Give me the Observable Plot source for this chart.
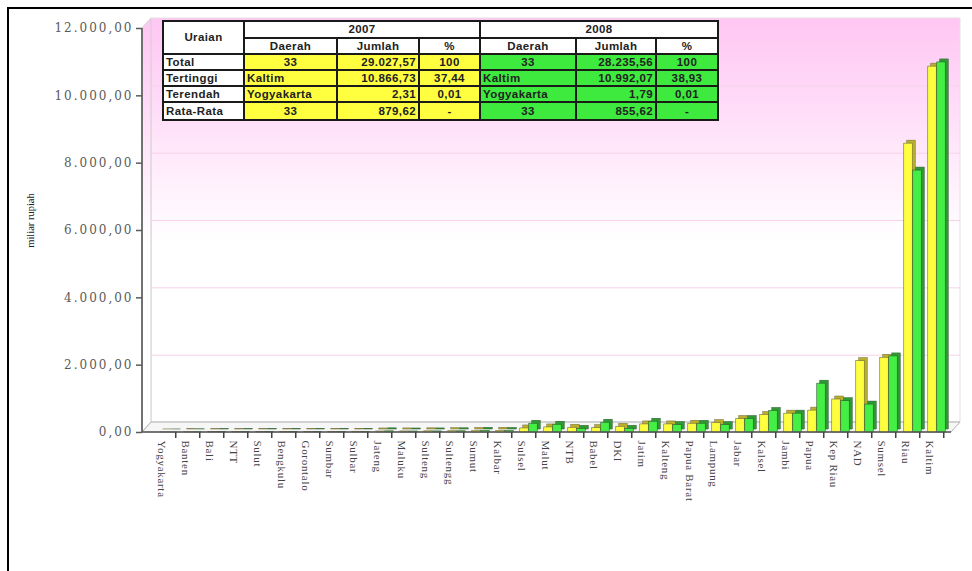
<!DOCTYPE html>
<html><head><meta charset="utf-8">
<script src="https://cdn.jsdelivr.net/npm/d3@7"></script>
<script src="https://cdn.jsdelivr.net/npm/@observablehq/plot@0.6"></script>
<style>
body{margin:0;background:#fff;width:972px;height:571px;overflow:hidden;position:relative;}
#frame{position:absolute;left:7px;top:7px;width:990px;height:600px;border-left:2px solid #000;border-top:2px solid #000;pointer-events:none;}
#chart{position:absolute;left:0;top:0;}
#chart [aria-label="y-axis tick label"] text{letter-spacing:2px;}
#chart [aria-label="x-axis tick label"] text{letter-spacing:0.7px;}
#tbl{position:absolute;left:162px;top:20px;}
table{border-collapse:collapse;font-family:"Liberation Sans",Arial,sans-serif;font-size:11.5px;font-weight:bold;letter-spacing:0.4px;color:#222;table-layout:fixed;width:555px;}
td{border:2px solid #1a1a1a;padding:0 2px;white-space:nowrap;overflow:hidden;line-height:13px;}
td.h{background:#fff;text-align:center;}
td.n{background:#fff;}
td.y{background:#ffff40;}
td.g{background:#3dea3d;}
td.c{text-align:center;} td.r{text-align:right;} td.l{text-align:left;}
</style></head><body>
<div id="chart"></div>
<div id="tbl"></div>
<div id="frame"></div>
<script>
// ---- data ----
const regions = ["Yogyakarta","Banten","Bali","NTT","Sulut","Bengkulu","Gorontalo","Sumbar","Sulbar","Jateng","Maluku","Sulteng","Sultengg","Sumut","Kalbar","Sulsel","Malut","NTB","Babel","DKI","Jatim","Kalteng","Papua Barat","Lampung","Jabar","Kalsel","Jambi","Papua","Kep Riau","NAD","Sumsel","Riau","Kaltim"];
const values2007 = [2.31,8,10,12,14,16,18,20,22,30,32,35,38,45,50,120,150,140,130,170,240,240,260,280,400,520,560,650,980,2120,2220,8580,10866.73];
const values2008 = [1.79,7,9,11,13,15,16,18,20,35,30,32,36,50,45,260,230,110,290,110,320,220,260,220,400,640,560,1450,930,830,2260,7780,10992.07];
const yTicks = [0,2000,4000,6000,8000,10000,12000];
const yLabel = "miliar rupiah";

// summary table
const tableYears = ["2007","2008"];
const tableSubHeads = ["Daerah","Jumlah","%"];
const tableRowNames = ["Total","Tertinggi","Terendah","Rata-Rata"];
const daerah2007 = ["33","Kaltim","Yogyakarta","33"];
const jumlah2007 = ["29.027,57","10.866,73","2,31","879,62"];
const pct2007 = ["100","37,44","0,01","-"];
const daerah2008 = ["33","Kaltim","Yogyakarta","33"];
const jumlah2008 = ["28.235,56","10.992,07","1,79","855,62"];
const pct2008 = ["100","38,93","0,01","-"];

// ---- chart ----
const W = 972, H = 571, ML = 142, MR = 21, MT = 28, MB = 139;
const DX = 9, DY = -10;
const bw = (W - ML - MR) / regions.length;
const barW = 9;
const inset = (bw - barW) / 2;
const data = regions.map((r, i) => ({region: r, v07: values2007[i], v08: values2008[i]}));
const idLocale = d3.formatLocale({decimal: ",", thousands: ".", grouping: [3], currency: ["", ""]});
const fmt = idLocale.format(",.2f");

function defs() {
  const s = d3.create("svg:defs");
  const g = s.append("linearGradient").attr("id", "bgGrad").attr("x1", 0).attr("y1", 0).attr("x2", 0).attr("y2", 1);
  g.append("stop").attr("offset", "0%").attr("stop-color", "#ffc6f3");
  g.append("stop").attr("offset", "22%").attr("stop-color", "#ffdcf8");
  g.append("stop").attr("offset", "55%").attr("stop-color", "#ffffff");
  return s.node();
}

function walls(index, scales, values, dims) {
  const y = scales.y;
  const x0 = dims.marginLeft, x1 = dims.width - dims.marginRight;
  const y0 = y(0), yT = y(12000);
  const g = d3.create("svg:g");
  g.append("rect").attr("x", x0 + DX).attr("y", yT + DY).attr("width", x1 - x0).attr("height", y0 - yT)
    .attr("fill", "url(#bgGrad)").attr("stroke", "#e2e2e2");
  g.append("path").attr("d", `M${x0},${yT}L${x0 + DX},${yT + DY}L${x0 + DX},${y0 + DY}L${x0},${y0}Z`)
    .attr("fill", "url(#bgGrad)").attr("stroke", "#cfcfcf");
  g.append("path").attr("d", `M${x0},${y0}L${x0 + DX},${y0 + DY}L${x1 + DX},${y0 + DY}L${x1},${y0}Z`)
    .attr("fill", "#f6f6f6").attr("stroke", "#b0b0b0");
  return g.node();
}

function axes(index, scales, values, dims) {
  const y = scales.y;
  const x0 = dims.marginLeft, x1 = dims.width - dims.marginRight;
  const g = d3.create("svg:g").attr("stroke", "#555").attr("stroke-width", 1.6).attr("fill", "none");
  g.append("line").attr("x1", x0).attr("x2", x0).attr("y1", y(12000)).attr("y2", y(0));
  g.append("line").attr("x1", x0).attr("x2", x1).attr("y1", y(0)).attr("y2", y(0));
  return g.node();
}

const serif = "'DejaVu Serif', serif";
const chart = Plot.plot({
  width: W, height: H,
  marginLeft: ML, marginRight: MR, marginTop: MT, marginBottom: MB,
  style: {background: "transparent", overflow: "visible"},
  x: {domain: regions, padding: 0, align: 0.5},
  y: {domain: [0, 12000]},
  marks: [
    defs,
    walls,
    Plot.gridY(yTicks.slice(1), {dx: DX, dy: DY, stroke: "#f6d2ea", strokeOpacity: 1}),
    Plot.barY(data, {x: "region", y: "v07", fill: "#bcae2c", stroke: "#6d6a3c", strokeWidth: 0.5, insetLeft: inset, insetRight: inset, dx: 1 + 3, dy: -3}),
    Plot.barY(data, {x: "region", y: "v07", fill: "#ffff40", stroke: "#6d6a3c", strokeWidth: 0.6, insetLeft: inset, insetRight: inset, dx: 1}),
    Plot.barY(data, {x: "region", y: "v08", fill: "#2f9a35", stroke: "#2f5a2f", strokeWidth: 0.5, insetLeft: inset, insetRight: inset, dx: 10 + 3, dy: -3}),
    Plot.barY(data, {x: "region", y: "v08", fill: "#44ee44", stroke: "#2f5a2f", strokeWidth: 0.6, insetLeft: inset, insetRight: inset, dx: 10}),
    axes,
    Plot.axisY({ticks: yTicks, tickFormat: fmt, tickSize: 6, tickPadding: 3, fontSize: 12, fontFamily: serif, color: "#5a5a5a", label: null, strokeWidth: 1.5}),
    Plot.axisX({tickSize: 6, tickFormat: () => "", dx: bw / 2, label: null, strokeWidth: 1.5, stroke: "#444"}),
    Plot.axisX({tickSize: 0, tickPadding: 8, tickRotate: 90, label: null, fontSize: 11, fontFamily: "'Liberation Serif', serif", color: "#444", dx: -2}),
    Plot.text([yLabel], {frameAnchor: "left", rotate: -90, textAnchor: "middle", dx: -112, dy: -10, fontSize: 10.5, fontFamily: "'Liberation Serif', serif", fill: "#222"})
  ]
});
document.getElementById("chart").append(chart);

// ---- table ----
const colW = [81, 93, 82, 61, 96, 80, 62];
const rowH = [17, 16, 16, 16, 16, 18];
let html = "<table><colgroup>" + colW.map(w => `<col style="width:${w}px">`).join("") + "</colgroup>";
html += `<tr style="height:${rowH[0]}px"><td class="h" rowspan="2">Uraian</td>` + tableYears.map(y => `<td class="h" colspan="3">${y}</td>`).join("") + "</tr>";
html += `<tr style="height:${rowH[1]}px">` + [...tableSubHeads, ...tableSubHeads].map(s => `<td class="h">${s}</td>`).join("") + "</tr>";
const sets = [[daerah2007, jumlah2007, pct2007, "y"], [daerah2008, jumlah2008, pct2008, "g"]];
tableRowNames.forEach((name, i) => {
  html += `<tr style="height:${rowH[i + 2]}px"><td class="n l">${name}</td>`;
  sets.forEach(([d, j, p, cls]) => {
    const dAlign = /^\d+$/.test(d[i]) ? "c" : "l";
    html += `<td class="${cls} ${dAlign}">${d[i]}</td><td class="${cls} r">${j[i]}</td><td class="${cls} c">${p[i]}</td>`;
  });
  html += "</tr>";
});
html += "</table>";
document.getElementById("tbl").innerHTML = html;
</script>
</body></html>
